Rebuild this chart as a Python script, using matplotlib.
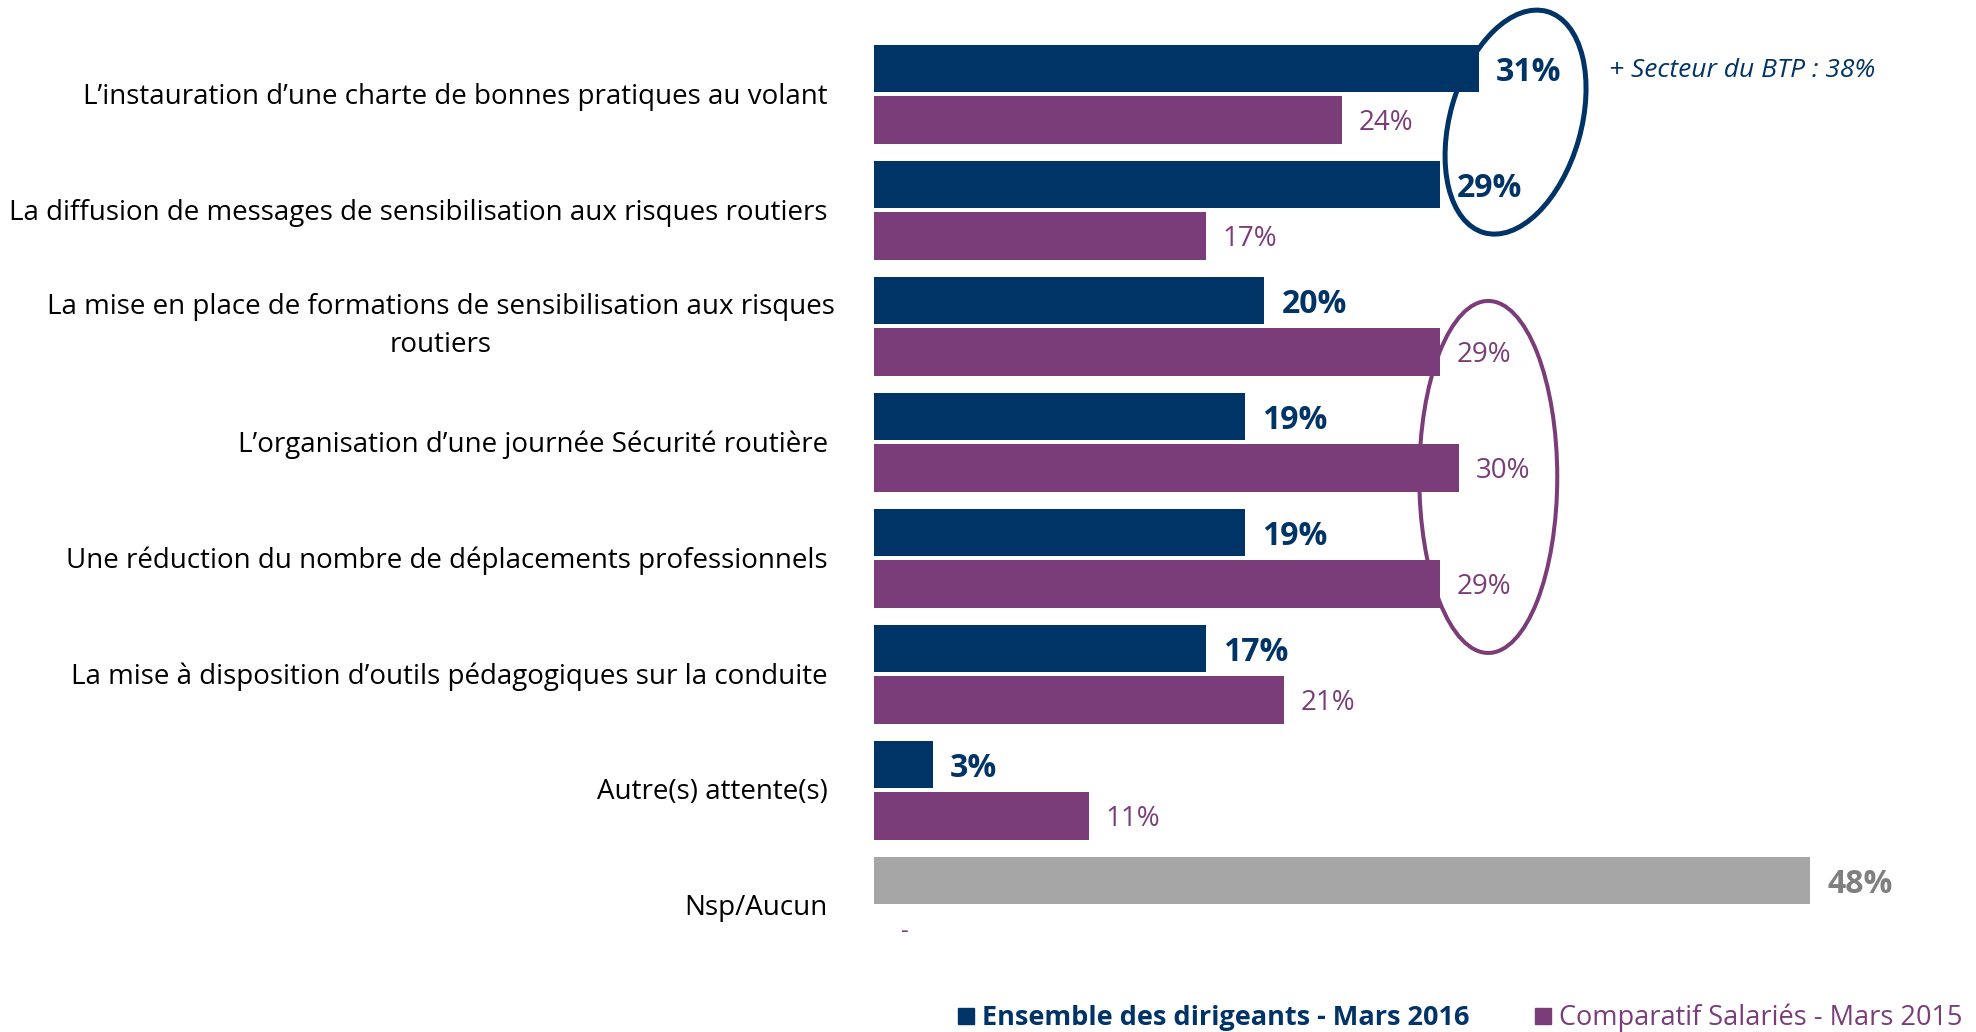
import matplotlib.pyplot as plt
from matplotlib.patches import Ellipse
from matplotlib.lines import Line2D
from matplotlib.transforms import IdentityTransform

plt.rcParams['font.family'] = ['Open Sans', 'DejaVu Sans']

# Données
categories = [
    "L\u2019instauration d\u2019une charte de bonnes pratiques au volant",
    "La diffusion de messages de sensibilisation aux risques routiers",
    "La mise en place de formations de sensibilisation aux risques\nroutiers",
    "L\u2019organisation d\u2019une journée Sécurité routière",
    "Une réduction du nombre de déplacements professionnels",
    "La mise à disposition d\u2019outils pédagogiques sur la conduite",
    "Autre(s) attente(s)",
    "Nsp/Aucun",
]
dirigeants_2016 = [31, 29, 20, 19, 19, 17, 3, 48]
salaries_2015 = [24, 17, 29, 30, 29, 21, 11, None]

label_dirigeants = "Ensemble des dirigeants - Mars 2016"
label_salaries = "Comparatif Salariés - Mars 2015"
note_btp = "+ Secteur du BTP : 38%"

navy = '#003366'
purple = '#7B3D79'
gray_bar = '#A6A6A6'
gray_txt = '#7F7F7F'

fig = plt.figure(figsize=(19.76, 10.32), dpi=100)
ax = fig.add_axes([874 / 1976, 1 - 1022 / 1032, 1092 / 1976, (1022 - 7.3) / 1032])
ax.set_xlim(0, 56)
ax.set_ylim(8.0, -0.75)
ax.axis('off')

off = 0.222
h = 0.41
n = len(categories)
for i in range(n):
    d = dirigeants_2016[i]
    s = salaries_2015[i]
    is_nsp = i == n - 1
    ax.barh(i - off, d, height=h, color=gray_bar if is_nsp else navy)
    ax.text(d + 0.9, i - off + 0.035, f"{d}%", va='center', ha='left', fontsize=23,
            fontweight='bold', color=gray_txt if is_nsp else navy)
    if s is None:
        ax.text(1.4, i + off, "-", va='center', ha='left', fontsize=17, color=purple)
    else:
        ax.barh(i + off, s, height=h, color=purple)
        ax.text(s + 0.87, i + off + 0.03, f"{s}%", va='center', ha='left', fontsize=20,
                color=purple)
    if "\n" in categories[i]:
        ax.text(-2.0, i, categories[i], ha='right', va='center', fontsize=20,
                multialignment='center', linespacing=1.45)
    else:
        ax.text(-2.36, i + 0.02, categories[i], ha='right', va='center', fontsize=20)

ax.text(37.7, -off + 0.02, note_btp, ha='left', va='center', fontsize=19,
        style='italic', color=navy)

# Ellipses de mise en évidence
cx, cy = ax.transData.transform((32.9, 0.24))
fig.patches.append(Ellipse((cx, cy), 131, 230, angle=-16, fill=False,
                           edgecolor=navy, linewidth=3.6,
                           transform=IdentityTransform(), figure=fig))
cx, cy = ax.transData.transform((31.5, 3.3))
fig.patches.append(Ellipse((cx, cy), 138, 352, angle=0, fill=False,
                           edgecolor=purple, linewidth=2.9,
                           transform=IdentityTransform(), figure=fig))

# Légende
handles = [
    Line2D([], [], marker='s', linestyle='none', color=navy, markersize=12),
    Line2D([], [], marker='s', linestyle='none', color=purple, markersize=12),
]
leg = fig.legend(handles, [label_dirigeants, label_salaries], loc='center',
                 bbox_to_anchor=(1460 / 1976, 1 - 1018 / 1032), ncol=2,
                 frameon=False, fontsize=19.5, handlelength=0.6,
                 handletextpad=0.3, columnspacing=2.4, borderpad=0)
texts = leg.get_texts()
texts[0].set_color(navy)
texts[0].set_fontweight('bold')
texts[1].set_color(purple)

fig.savefig("out.png", dpi=100)
